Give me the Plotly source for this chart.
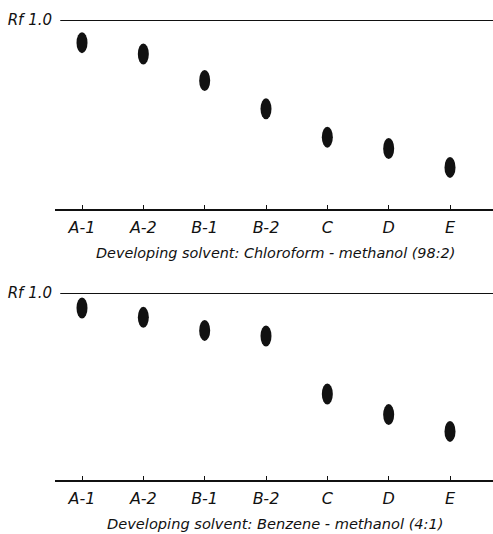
import plotly.graph_objects as go

# ---- data ----
lanes = ["A-1", "A-2", "B-1", "B-2", "C", "D", "E"]
rf_chloroform_methanol = [0.88, 0.82, 0.68, 0.53, 0.38, 0.32, 0.22]
rf_benzene_methanol = [0.92, 0.87, 0.80, 0.77, 0.46, 0.35, 0.26]
captions = [
    "Developing solvent: Chloroform - methanol (98:2)",
    "Developing solvent: Benzene - methanol (4:1)",
]
top_label = "Rf 1.0"

W, H = 493, 534
FONT = "DejaVu Sans"
INK = "#111111"

panels = [
    dict(values=rf_chloroform_methanol, caption=captions[0],
         top_px=20, base_px=209, cap_px=253, cap_size=14.4),
    dict(values=rf_benzene_methanol, caption=captions[1],
         top_px=293, base_px=480, cap_px=523, cap_size=14.6),
]

fig = go.Figure()
lane_idx = list(range(len(lanes)))
x_left_px = 55
xr = [-27 / 61.33, 6 + 43 / 61.33]

for k, p in enumerate(panels):
    ax = "" if k == 0 else str(k + 1)
    xa, ya = "x" + ax, "y" + ax
    fig.add_trace(go.Scatter(
        x=lane_idx, y=p["values"], mode="markers",
        marker=dict(size=10, color="rgba(0,0,0,0)"),
        text=lanes, hovertemplate="%{text}: Rf %{y:.2f}<extra></extra>",
        xaxis=xa, yaxis=ya, showlegend=False))
    dom_y = [1 - p["base_px"] / H, 1 - p["top_px"] / H]
    fig.layout["xaxis" + ax] = dict(
        domain=[x_left_px / W, 1], range=xr, anchor=ya, automargin=False,
        tickmode="array", tickvals=lane_idx, ticktext=lanes,
        ticks="inside", ticklen=4, tickwidth=1.2, tickcolor=INK,
        showline=True, linewidth=1.5, linecolor=INK,
        showgrid=False, zeroline=False, ticklabelstandoff=3,
        tickfont=dict(family=FONT, size=16, color=INK, style="italic"),
        fixedrange=True)
    fig.layout["yaxis" + ax] = dict(
        domain=dom_y, range=[0, 1], anchor=xa, automargin=False,
        tickmode="array", tickvals=[1], ticktext=[top_label],
        ticks="", showline=False, showgrid=False, zeroline=False,
        ticklabelstandoff=2,
        tickfont=dict(family=FONT, size=15, color=INK, style="italic"),
        fixedrange=True)
    # Rf 1.0 solvent front line
    fig.add_shape(type="line", xref=xa + " domain", yref=ya,
                  x0=0.012, x1=1, y0=1, y1=1,
                  line=dict(color=INK, width=2))
    # spots
    for i, v in enumerate(p["values"]):
        fig.add_shape(type="circle", xref=xa, yref=ya,
                      xsizemode="pixel", ysizemode="pixel",
                      xanchor=i, yanchor=v,
                      x0=-5.5, x1=5.5, y0=-10.5, y1=10.5,
                      fillcolor=INK, line=dict(width=0))
    fig.add_annotation(text=p["caption"], xref="paper", yref="paper",
                       x=275 / W, y=1 - p["cap_px"] / H,
                       xanchor="center", yanchor="middle", showarrow=False,
                       font=dict(family=FONT, size=p["cap_size"], color=INK,
                                 style="italic"))

fig.update_layout(width=W, height=H, margin=dict(l=0, r=0, t=0, b=0),
                  paper_bgcolor="white", plot_bgcolor="white",
                  template="none")
fig.write_html("out.html")
